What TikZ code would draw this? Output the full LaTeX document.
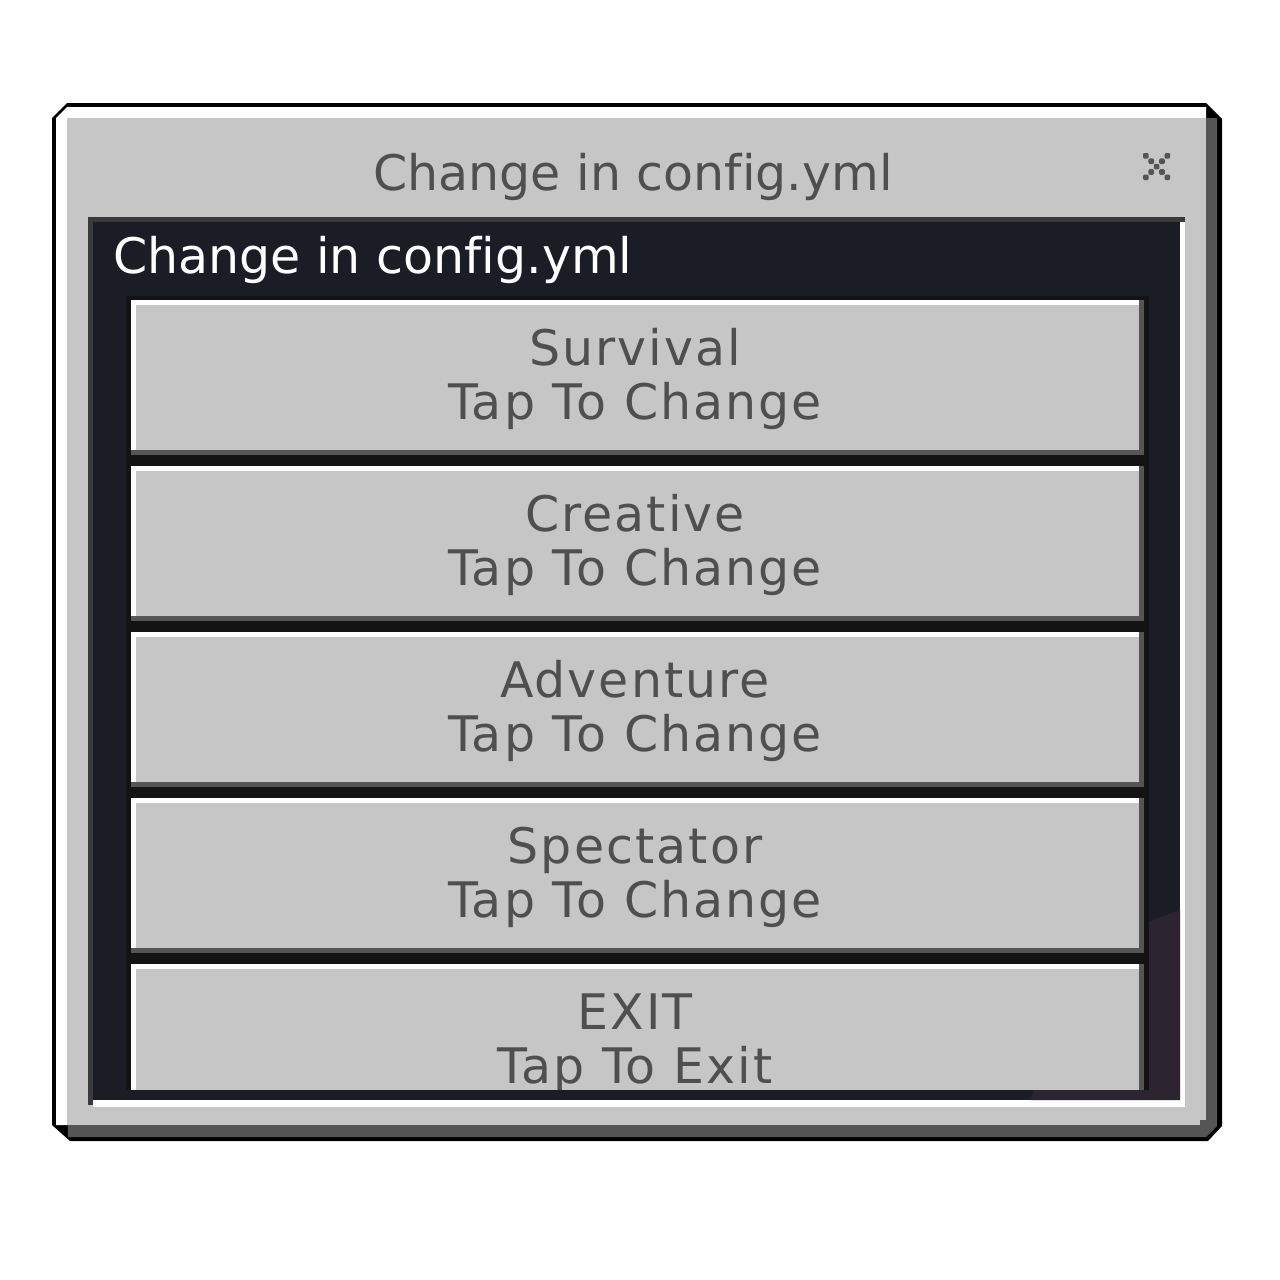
\documentclass[tikz,border=0pt]{standalone}
\usepackage{fontspec}
\setmainfont{DejaVu Sans}[Ligatures=NoCommon]
\newfontfamily\mcwide{DejaVu Sans}[LetterSpace=4.2,Ligatures=NoCommon]
\definecolor{mcgrey}{HTML}{C6C6C6}
\definecolor{mcdark}{HTML}{555555}
\definecolor{mcnavy}{HTML}{1B1D26}
\definecolor{mcpurple}{HTML}{2C2431}
\definecolor{mcblack}{HTML}{131313}
\definecolor{mctext}{HTML}{4F4F4F}
\definecolor{mcborder}{HTML}{3A3A3A}
\begin{document}
\begin{tikzpicture}[x=1pt,y=-1pt,
  mcfont/.style={font=\fontsize{49}{53}\selectfont},
  titletext/.style={mcfont, text=mctext, anchor=base, inner sep=0pt},
  btntext/.style={font=\mcwide\fontsize{49}{53}\selectfont, text=mctext, anchor=base, inner sep=0pt},
  headtext/.style={mcfont, text=white, anchor=base west, inner sep=0pt}]
\useasboundingbox (0,0) rectangle (1280,1280);
\fill[white] (0,0) rectangle (1280,1280);
% outer frame
\fill[black] (52,118) -- (67,103) -- (1206,103) -- (1222,119) -- (1222,1126) -- (1208,1141) -- (70,1141) -- (52,1125) -- cycle;
\fill[white] (56,118) -- (67,107) -- (1206,107) -- (1206,1125) -- (56,1125) -- cycle;
\fill[mcdark] (67,118) -- (1217,118) -- (1217,1126) -- (1206,1137) -- (68,1137) -- cycle;
\fill[mcgrey] (67,118) rectangle (1206,1125);
\fill[mcdark] (1200,1120) rectangle (1206,1125);
% title
\node[titletext] (title) at (633,190) {Change in config.yml};
% close cross
\foreach \i/\j in {0/0,4/0,1/1,3/1,2/2,1/3,3/3,0/4,4/4}{
  \fill[mcdark, rounded corners=1.2pt] (1143+5.4*\i,153+5.4*\j) rectangle ++(5.6,5.6);
}
% inner panel
\fill[mcborder] (88,217) rectangle (1185,1105);
\fill[white] (93,222) rectangle (1185,1107);
\fill[mcnavy] (93,222) rectangle (1180,1100);
\fill[mcpurple] (1030,1100) .. controls (1062,1000) and (1100,942) .. (1150,921) -- (1180,910) -- (1180,1100) -- cycle;
\node[headtext] (head) at (113,273) {Change in config.yml};
% buttons
\begin{scope}
\clip (93,222) rectangle (1180,1089);
\foreach \k/\ta/\tb in {0/Survival/Tap To Change,1/Creative/Tap To Change,2/Adventure/Tap To Change,3/Spectator/Tap To Change,4/EXIT/Tap To Exit}{
  \pgfmathsetmacro{\t}{300+166*\k}
  \fill[mcblack] (126,\t-4) rectangle (1149,\t+166);
  \fill[mcdark] (131,\t) rectangle (1144,\t+155);
  \fill[white] (131,\t) rectangle (1139,\t+150);
  \fill[mcgrey] (136,\t+5) rectangle (1139,\t+150);
  \node[btntext] (btn\k a) at (635,\t+65) {\ta};
  \node[btntext] (btn\k b) at (635,\t+119) {\tb};
}
\end{scope}
\end{tikzpicture}
\end{document}
